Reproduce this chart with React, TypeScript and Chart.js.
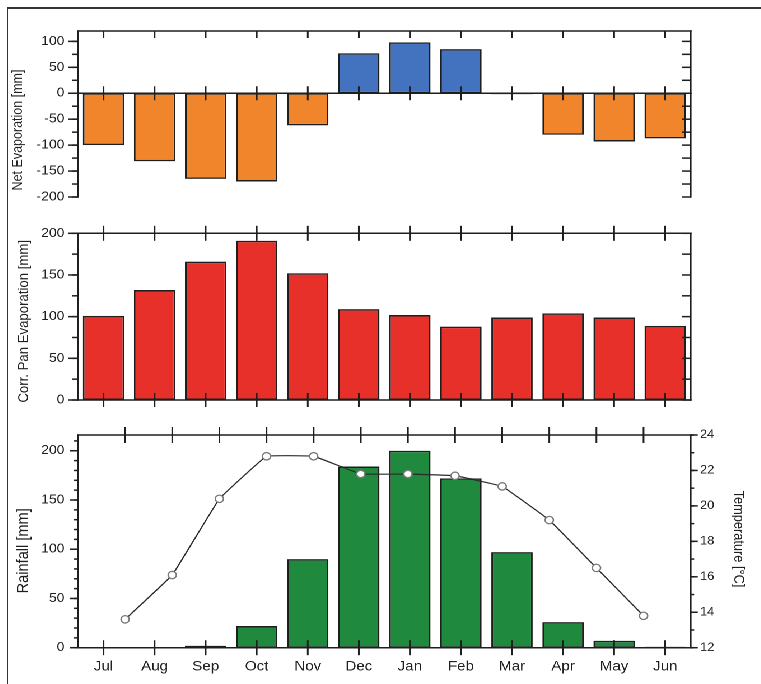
import React, { useEffect, useRef } from "react";
import { Chart, registerables } from "chart.js";

Chart.register(...registerables);

// ---------- data ----------
const months = ["Jul", "Aug", "Sep", "Oct", "Nov", "Dec", "Jan", "Feb", "Mar", "Apr", "May", "Jun"];
const netEvaporation = [-100, -131, -165, -170, -62, 77, 98, 85, -2, -80, -93, -87];
const panEvaporation = [101, 132, 166, 191, 152, 109, 102, 88, 99, 104, 99, 89];
const rainfall = [0, 0, 2, 22, 90, 184, 200, 172, 97, 26, 7, 1];
const temperature = [13.6, 16.1, 20.4, 22.8, 22.8, 21.8, 21.8, 21.7, 21.1, 19.2, 16.5, 13.8];
const netTicks = [-200, -150, -100, -50, 0, 50, 100];
const panTicks = [0, 50, 100, 150, 200];
const rainTicks = [0, 50, 100, 150, 200];
const tempTicks = [12, 14, 16, 18, 20, 22, 24];

// ---------- style ----------
const SX = 1.12; // horizontal stretch of the original figure
const W = 672;
const FONT = "'Liberation Sans', Arial, sans-serif";
const INK = "#1e1e1e";
const TEXT = "#1f1f1f";
const ORANGE = "#F0852B";
const BLUE = "#4372BE";
const RED = "#E8302B";
const GREEN = "#1F8A3E";
const LEFT_W = 62.5;
const RIGHT_W = 62.45;

type YTick = { axis: string; side: "left" | "right"; step: number; len: number; dir: "in" | "out" };
type XTick = { axis: string; at: "top" | "bottom" | "zero"; dir: "in" | "cross"; len: number; values: number[] };
type Title = { text: string; size: number; x: number; cy: number; rot: number };
type Frame = {
  sides?: boolean;
  top?: boolean;
  bottom?: boolean;
  zero?: boolean;
  yTicks: YTick[];
  xTicks: XTick[];
  titles: Title[];
};

const framePlugin = {
  id: "frame",
  afterDatasetsDraw(chart: any, _args: any, o: Frame) {
    const { ctx, chartArea: a, scales } = chart;
    ctx.save();
    ctx.strokeStyle = INK;
    ctx.lineWidth = 1.5;
    ctx.lineCap = "square";
    const seg = (x1: number, y1: number, x2: number, y2: number) => {
      ctx.beginPath();
      ctx.moveTo(x1, y1);
      ctx.lineTo(x2, y2);
      ctx.stroke();
    };
    if (o.sides !== false) {
      seg(a.left, a.top, a.left, a.bottom);
      seg(a.right, a.top, a.right, a.bottom);
    }
    if (o.top) seg(a.left, a.top, a.right, a.top);
    if (o.bottom) seg(a.left, a.bottom, a.right, a.bottom);
    if (o.zero) {
      const y0 = scales.y.getPixelForValue(0);
      seg(a.left, y0, a.right, y0);
    }
    ctx.lineCap = "butt";
    for (const t of o.yTicks) {
      const s = scales[t.axis];
      const x = t.side === "left" ? a.left : a.right;
      const outward = t.side === "left" ? -1 : 1;
      const sign = t.dir === "out" ? outward : -outward;
      const start = Math.ceil(s.min / t.step - 1e-9) * t.step;
      for (let v = start; v <= s.max + 1e-9; v += t.step) {
        const y = s.getPixelForValue(v);
        seg(x, y, x + sign * t.len, y);
      }
    }
    for (const t of o.xTicks) {
      const s = scales[t.axis];
      const y = t.at === "top" ? a.top : t.at === "bottom" ? a.bottom : scales.y.getPixelForValue(0);
      for (const v of t.values) {
        const x = s.getPixelForValue(v);
        if (t.dir === "cross") seg(x, y - t.len, x, y + t.len);
        else seg(x, y, x, y + t.len);
      }
    }
    ctx.fillStyle = TEXT;
    ctx.textAlign = "center";
    ctx.textBaseline = "middle";
    for (const t of o.titles) {
      ctx.save();
      ctx.translate(t.x, t.cy);
      ctx.rotate(t.rot);
      ctx.font = `${t.size}px ${FONT}`;
      ctx.fillText(t.text, 0, 0);
      ctx.restore();
    }
    ctx.restore();
  },
};

const idx = months.map((_, i) => i);

const yScale = (min: number, max: number, ticks: number[], position: string, width: number, size: number, pad: number) => ({
  type: "linear",
  position,
  min,
  max,
  afterBuildTicks: (s: any) => {
    s.ticks = ticks.map((v) => ({ value: v }));
  },
  afterFit: (s: any) => {
    s.width = width;
    s.paddingTop = 0;
    s.paddingBottom = 0;
  },
  grid: { display: false, drawTicks: false },
  border: { display: false },
  ticks: { font: { family: FONT, size }, color: TEXT, padding: pad },
});

const base = (padding: any, frame: Frame) => ({
  responsive: false,
  animation: false as const,
  devicePixelRatio: 2,
  events: [] as any[],
  layout: { padding },
  plugins: { legend: { display: false }, tooltip: { enabled: false }, frame },
});

const barStyle = {
  borderColor: INK,
  borderWidth: 1.5,
  borderSkipped: false,
  barPercentage: 0.81,
  categoryPercentage: 1,
};

function netConfig(): any {
  return {
    type: "bar",
    data: {
      labels: months,
      datasets: [
        {
          data: netEvaporation,
          backgroundColor: netEvaporation.map((v) => (v >= 0 ? BLUE : ORANGE)),
          ...barStyle,
        },
      ],
    },
    options: {
      ...base({ left: 0, right: RIGHT_W, top: 23, bottom: 11 }, {
        top: true,
        zero: true,
        yTicks: [
          { axis: "y", side: "left", step: 50, len: 8.9, dir: "out" },
          { axis: "y", side: "left", step: 25, len: 5.4, dir: "out" },
          { axis: "y", side: "right", step: 25, len: 8, dir: "in" },
        ],
        xTicks: [
          { axis: "x", at: "top", dir: "in", len: 7, values: idx },
          { axis: "x", at: "zero", dir: "cross", len: 7, values: idx },
        ],
        titles: [{ text: "Net Evaporation [mm]", size: 12.5, x: 9.2, cy: 122, rot: -Math.PI / 2 }],
      }),
      scales: {
        x: { type: "category", display: false },
        y: yScale(-200, 120, netTicks, "left", LEFT_W, 12.5, 12),
      },
    },
    plugins: [framePlugin],
  };
}

function panConfig(): any {
  return {
    type: "bar",
    data: {
      labels: months,
      datasets: [{ data: panEvaporation, backgroundColor: RED, ...barStyle }],
    },
    options: {
      ...base({ left: 0, right: RIGHT_W, top: 25.3, bottom: 18 }, {
        top: true,
        bottom: true,
        yTicks: [
          { axis: "y", side: "left", step: 50, len: 8.9, dir: "out" },
          { axis: "y", side: "left", step: 25, len: 5.4, dir: "out" },
          { axis: "y", side: "right", step: 25, len: 8, dir: "in" },
        ],
        xTicks: [
          { axis: "x", at: "top", dir: "cross", len: 7.5, values: idx },
          { axis: "x", at: "bottom", dir: "cross", len: 7, values: idx },
        ],
        titles: [{ text: "Corr. Pan Evaporation [mm]", size: 13.2, x: 14.3, cy: 113.3, rot: -Math.PI / 2 }],
      }),
      scales: {
        x: { type: "category", display: false },
        y: yScale(0, 200, panTicks, "left", LEFT_W, 12.5, 12),
      },
    },
    plugins: [framePlugin],
  };
}

function rainConfig(): any {
  return {
    type: "bar",
    data: {
      labels: months,
      datasets: [{ data: rainfall, backgroundColor: GREEN, ...barStyle }],
    },
    options: {
      ...base({ left: 0, right: RIGHT_W, top: 17, bottom: 0 }, {
        top: true,
        bottom: true,
        yTicks: [
          { axis: "y", side: "left", step: 50, len: 7.1, dir: "out" },
          { axis: "y", side: "left", step: 10, len: 3.6, dir: "out" },
        ],
        xTicks: [{ axis: "x", at: "bottom", dir: "cross", len: 7.5, values: idx }],
        titles: [{ text: "Rainfall [mm]", size: 14.6, x: 13.8, cy: 132.8, rot: -Math.PI / 2 }],
      }),
      scales: {
        x: {
          type: "category",
          position: "bottom",
          grid: { display: false, drawTicks: false },
          border: { display: false },
          ticks: { font: { family: FONT, size: 13.5 }, color: TEXT, padding: 11, autoSkip: false, maxRotation: 0 },
          afterFit: (s: any) => {
            s.height = 36.3;
            s.paddingLeft = 0;
            s.paddingRight = 0;
          },
        },
        y: yScale(0, 216, rainTicks, "left", LEFT_W, 12.5, 12),
      },
    },
    plugins: [framePlugin],
  };
}

function tempConfig(): any {
  return {
    type: "line",
    data: {
      datasets: [
        {
          data: temperature.map((t, i) => ({ x: i, y: t })),
          borderColor: "#2a2a2a",
          borderWidth: 1.2,
          tension: 0.06,
          pointRadius: 3.7,
          pointBorderWidth: 1.3,
          pointBackgroundColor: "#ffffff",
          pointBorderColor: "#7a7a7a",
        },
      ],
    },
    options: {
      ...base({ left: LEFT_W, right: 0, top: 17, bottom: 36.3 }, {
        sides: false,
        yTicks: [
          { axis: "y", side: "right", step: 2, len: 6.3, dir: "out" },
          { axis: "y", side: "right", step: 1, len: 3.1, dir: "out" },
        ],
        xTicks: [{ axis: "x", at: "top", dir: "cross", len: 8, values: idx }],
        titles: [{ text: "Temperature [°C]", size: 12.8, x: 651.8, cy: 121, rot: Math.PI / 2 }],
      }),
      scales: {
        x: { type: "linear", position: "top", min: -1, max: 12, display: false },
        y: yScale(12, 24, tempTicks, "right", RIGHT_W, 11.5, 8.3),
      },
    },
    plugins: [framePlugin],
  };
}

export default function App() {
  const r1 = useRef<HTMLCanvasElement>(null);
  const r2 = useRef<HTMLCanvasElement>(null);
  const r3 = useRef<HTMLCanvasElement>(null);
  const r4 = useRef<HTMLCanvasElement>(null);

  useEffect(() => {
    const charts = [
      new Chart(r1.current as HTMLCanvasElement, netConfig()),
      new Chart(r2.current as HTMLCanvasElement, panConfig()),
      new Chart(r3.current as HTMLCanvasElement, rainConfig()),
      new Chart(r4.current as HTMLCanvasElement, tempConfig()),
    ];
    return () => charts.forEach((c) => c.destroy());
  }, []);

  const cv = (top: number, h: number): React.CSSProperties => ({
    position: "absolute",
    left: 0,
    top,
    width: W,
    height: h,
  });

  return (
    <div style={{ position: "fixed", left: 0, top: 0, width: 761, height: 684, overflow: "hidden", background: "#fff" }}>
      <div style={{ position: "absolute", left: 6.7, top: 7.3, width: 760, height: 1.7, background: "#333" }} />
      <div style={{ position: "absolute", left: 6.7, top: 7.3, width: 1.7, height: 680, background: "#333" }} />
      <div
        style={{
          position: "absolute",
          left: 8,
          top: 8,
          width: W,
          height: 676,
          transform: `scaleX(${SX})`,
          transformOrigin: "0 0",
        }}
      >
        <canvas ref={r1} width={W} height={200} style={cv(0, 200)} />
        <canvas ref={r2} width={W} height={210} style={cv(200, 210)} />
        <canvas ref={r3} width={W} height={266} style={cv(410, 266)} />
        <canvas ref={r4} width={W} height={266} style={cv(410, 266)} />
      </div>
    </div>
  );
}
